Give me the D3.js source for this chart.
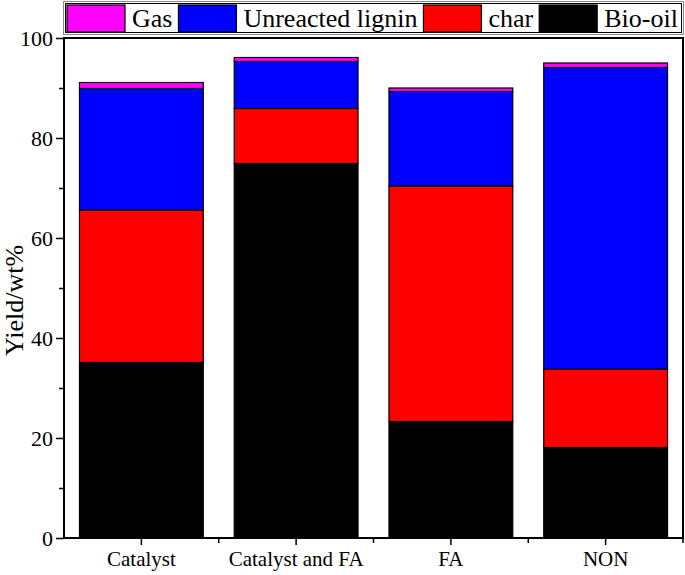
<!DOCTYPE html>
<html>
<head>
<meta charset="utf-8">
<script src="https://cdn.jsdelivr.net/npm/d3@7"></script>
<style>
  body { margin: 0; background: #fff; }
  svg, svg text { font-family: "Liberation Serif", "Times New Roman", serif; }
</style>
</head>
<body>
<svg id="chart" width="685" height="575"></svg>
<script>
// data (wt%)
const categories = ['Catalyst', 'Catalyst and FA', 'FA', 'NON'];
const bioOil = [35.1, 74.9, 23.3, 18.1];
const charYield = [30.5, 11.0, 47.1, 15.7];
const unreacted = [24.3, 9.4, 18.9, 60.3];
const gas = [1.2, 0.8, 0.7, 0.9];
const seriesNames = ['Bio-oil', 'char', 'Unreacted lignin', 'Gas'];
const seriesColors = ['#000000', '#ff0000', '#0000ff', '#ff00ff'];
const legendOrder = ['Gas', 'Unreacted lignin', 'char', 'Bio-oil'];
const yTicks = [0, 20, 40, 60, 80, 100];

const FONT = '"Liberation Serif", "Times New Roman", serif';
const svg = d3.select('#chart');
const margin = { top: 38, right: 2, bottom: 37, left: 64 };
const W = 685, H = 575;
const innerW = W - margin.left - margin.right;
const innerH = H - margin.top - margin.bottom;

const rows = categories.map((c, i) => ({
    cat: c,
    'Bio-oil': bioOil[i],
    'char': charYield[i],
    'Unreacted lignin': unreacted[i],
    'Gas': gas[i]
}));

const stacked = d3.stack().keys(seriesNames)(rows);

const xOuter = d3.scaleBand().domain(categories).range([0, innerW]);
const barW = xOuter.bandwidth() * 0.8;
const y = d3.scaleLinear().domain([0, 100]).range([innerH, 0]);
const color = d3.scaleOrdinal().domain(seriesNames).range(seriesColors);

const g = svg.append('g').attr('transform', `translate(${margin.left},${margin.top})`);

// bars
g.selectAll('g.layer')
    .data(stacked)
    .enter().append('g')
    .attr('class', 'layer')
    .attr('fill', d => color(d.key))
    .selectAll('rect')
    .data(d => d)
    .enter().append('rect')
    .attr('x', d => xOuter(d.data.cat) + (xOuter.bandwidth() - barW) / 2)
    .attr('width', barW)
    .attr('y', d => y(d[1]))
    .attr('height', d => y(d[0]) - y(d[1]))
    .attr('stroke', '#000')
    .attr('stroke-width', 1.2);

// frame
g.append('rect')
    .attr('x', 0).attr('y', 0)
    .attr('width', innerW).attr('height', innerH)
    .attr('fill', 'none')
    .attr('stroke', '#000')
    .attr('stroke-width', 2);

// y axis: major + minor ticks outward
const yAxis = d3.axisLeft(y).tickValues(yTicks).tickSize(8).tickPadding(3);
const yG = g.append('g').call(yAxis);
yG.select('.domain').remove();
yG.selectAll('line').attr('stroke-width', 1.5);
yG.selectAll('text').attr('font-size', 22).attr('font-family', FONT).attr('fill', '#000');

const yMinor = d3.axisLeft(y).tickValues(d3.range(10, 100, 20)).tickSize(5).tickFormat('');
const yMG = g.append('g').call(yMinor);
yMG.select('.domain').remove();
yMG.selectAll('line').attr('stroke-width', 1.5);

// x axis: ticks at category centres, minor at band edges
const xAxis = d3.axisBottom(xOuter).tickSize(7).tickPadding(6);
const xG = g.append('g').attr('transform', `translate(0,${innerH})`).call(xAxis);
xG.select('.domain').remove();
xG.selectAll('line').attr('stroke-width', 1.5);
xG.selectAll('text').attr('font-size', 21).attr('font-family', FONT).attr('fill', '#000');

const edges = categories.slice(1).map(c => xOuter(c)).concat([innerW]);
g.append('g')
    .selectAll('line')
    .data(edges)
    .enter().append('line')
    .attr('x1', d => d).attr('x2', d => d)
    .attr('y1', innerH).attr('y2', innerH + 5)
    .attr('stroke', '#000')
    .attr('stroke-width', 1.5);

// y label
svg.append('text')
    .attr('transform', `translate(23,${margin.top + y(47.5)}) rotate(-90)`)
    .attr('text-anchor', 'middle')
    .attr('font-size', 26)
    .text('Yield/wt%');

// legend
const legend = svg.append('g');
legend.append('rect')
    .attr('x', 63.5).attr('y', 1.5)
    .attr('width', 620).attr('height', 33)
    .attr('fill', '#fff')
    .attr('stroke', '#888')
    .attr('stroke-width', 1);
legend.append('rect')
    .attr('x', 65.5).attr('y', 3.5)
    .attr('width', 616).attr('height', 29)
    .attr('fill', 'none')
    .attr('stroke', '#000')
    .attr('stroke-width', 1);

let lx = 67;
legendOrder.forEach(name => {
    legend.append('rect')
        .attr('x', lx).attr('y', 5)
        .attr('width', 58).attr('height', 27)
        .attr('fill', color(name))
        .attr('stroke', '#000')
        .attr('stroke-width', 1.2);
    const t = legend.append('text')
        .attr('x', lx + 65).attr('y', 27)
        .attr('font-size', 26)
        .text(name);
    lx += 65 + t.node().getComputedTextLength() + 6;
});
</script>
</body>
</html>
